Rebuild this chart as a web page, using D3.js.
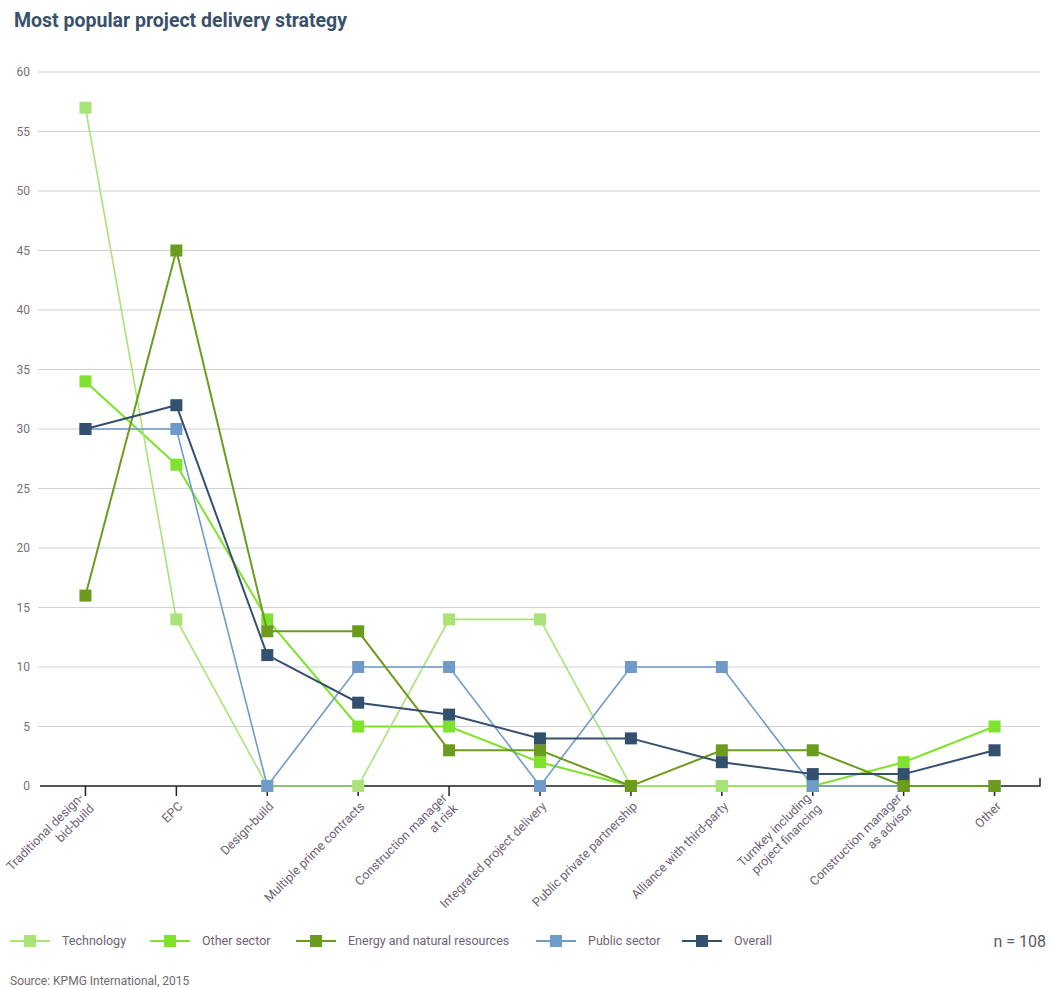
<!DOCTYPE html>
<html>
<head>
<meta charset="utf-8">
<title>Most popular project delivery strategy</title>
<script src="https://d3js.org/d3.v7.min.js"></script>
<style>
  body { margin: 0; background: #fff; }
  svg text { font-family: "Liberation Sans Narrow", "Roboto", "DejaVu Sans", sans-serif; }
</style>
</head>
<body>
<svg width="1051" height="988"></svg>
<script>
var categories = [
    ["Traditional design-", "bid-build"],
    ["EPC"],
    ["Design-build"],
    ["Multiple prime contracts"],
    ["Construction manager", "at risk"],
    ["Integrated project delivery"],
    ["Public private partnership"],
    ["Alliance with third-party"],
    ["Turnkey including", "project financing"],
    ["Construction manager", "as advisor"],
    ["Other"]
];
var technology = [57, 14, 0, 0, 14, 14, 0, 0, 0, 0, 0];
var otherSector = [34, 27, 14, 5, 5, 2, 0, 0, 0, 2, 5];
var energy = [16, 45, 13, 13, 3, 3, 0, 3, 3, 0, 0];
var publicSector = [30, 30, 0, 10, 10, 0, 10, 10, 0, 0, 0];
var overall = [30, 32, 11, 7, 6, 4, 4, 2, 1, 1, 3];
var yTicks = [0, 5, 10, 15, 20, 25, 30, 35, 40, 45, 50, 55, 60];

var series = [
    {name: "Technology", values: technology, color: "#a9e477", width: 1.6, lx: 10, z: 1},
    {name: "Other sector", values: otherSector, color: "#7fe22c", width: 2, lx: 150, z: 0},
    {name: "Energy and natural resources", values: energy, color: "#6b9c1e", width: 2, lx: 296, z: 3},
    {name: "Public sector", values: publicSector, color: "#6f9bc8", width: 1.6, lx: 536, z: 2},
    {name: "Overall", values: overall, color: "#33506f", width: 2, lx: 682, z: 4}
];

var svg = d3.select("svg"),
    margin = {top: 72, right: 11, bottom: 202, left: 40},
    width = +svg.attr("width") - margin.left - margin.right,
    height = +svg.attr("height") - margin.top - margin.bottom;

var x = d3.scaleBand().domain(d3.range(categories.length)).range([0, width]),
    y = d3.scaleLinear().domain([0, 60]).range([height, 0]);

var g = svg.append("g")
    .attr("transform", "translate(" + margin.left + "," + margin.top + ")");

// title
svg.append("text")
    .attr("x", 14).attr("y", 27)
    .style("font-size", "19.5px").style("font-weight", "bold")
    .style("fill", "#3b5169")
    .text("Most popular project delivery strategy");

// gridlines
g.selectAll(".grid")
    .data(yTicks.filter(function(d) { return d > 0; }))
    .enter().append("line")
    .attr("x1", -2).attr("x2", width)
    .attr("y1", function(d) { return y(d); })
    .attr("y2", function(d) { return y(d); })
    .attr("stroke", "#d0d0d6").attr("stroke-width", 1.2);

// y labels
g.selectAll(".ylab")
    .data(yTicks)
    .enter().append("text")
    .attr("x", -10).attr("y", function(d) { return y(d); })
    .attr("dy", "0.35em")
    .attr("text-anchor", "end")
    .style("font-size", "12px").style("fill", "#77707a")
    .text(function(d) { return d; });

// x axis
var xAxis = g.append("g")
    .attr("transform", "translate(0," + height + ")")
    .call(d3.axisBottom(x).tickSize(10).tickFormat(""));
xAxis.select(".domain").attr("d", "M0,0H" + width + "V-8").attr("stroke", "#222").attr("stroke-width", 1.5);
xAxis.selectAll(".tick line").attr("stroke", "#222").attr("stroke-width", 1.5);

// x labels, rotated
var xl = g.selectAll(".xlab")
    .data(categories)
    .enter().append("text")
    .attr("transform", function(d, i) {
        return "translate(" + (x(i) + x.bandwidth() / 2 + 4) + "," + (height + 18) + ") rotate(-45)";
    })
    .attr("text-anchor", "end")
    .style("font-size", "12.5px").style("fill", "#6e6275");
xl.selectAll("tspan")
    .data(function(d) { return d; })
    .enter().append("tspan")
    .attr("x", 0)
    .attr("dy", function(d, i, n) { return i === 0 ? (n.length > 1 ? "-0.6em" : "0.35em") : "1.2em"; })
    .text(function(d) { return d; });

// lines and markers (stacking order as in the original)
var line = d3.line()
    .x(function(d, i) { return x(i) + x.bandwidth() / 2; })
    .y(function(d) { return y(d); });

var sq = 12;
series.slice().sort(function(a, b) { return a.z - b.z; }).forEach(function(s) {
    g.append("path")
        .datum(s.values)
        .attr("fill", "none")
        .attr("stroke", s.color)
        .attr("stroke-width", s.width)
        .attr("d", line);
    g.selectAll(null)
        .data(s.values)
        .enter().append("rect")
        .attr("x", function(d, i) { return x(i) + x.bandwidth() / 2 - sq / 2; })
        .attr("y", function(d) { return y(d) - sq / 2; })
        .attr("width", sq).attr("height", sq)
        .attr("fill", s.color);
});

// legend
var ly = 941;
var leg = svg.selectAll(".leg")
    .data(series)
    .enter().append("g")
    .attr("transform", function(d) { return "translate(" + d.lx + "," + ly + ")"; });
leg.append("line")
    .attr("x1", 0).attr("x2", 40)
    .attr("stroke", function(d) { return d.color; })
    .attr("stroke-width", 2);
leg.append("rect")
    .attr("x", 14).attr("y", -6).attr("width", 12).attr("height", 12)
    .attr("fill", function(d) { return d.color; });
leg.append("text")
    .attr("x", 52).attr("dy", "0.35em")
    .style("font-size", "12.5px").style("fill", "#6e6275")
    .text(function(d) { return d.name; });

svg.append("text")
    .attr("x", 1046).attr("y", ly).attr("dy", "0.35em")
    .attr("text-anchor", "end")
    .style("font-size", "16px").style("fill", "#5a5a66")
    .text("n = 108");

svg.append("text")
    .attr("x", 10).attr("y", 981).attr("dy", "0.35em")
    .style("font-size", "12px").style("fill", "#6e6a70")
    .text("Source: KPMG International, 2015");
</script>
</body>
</html>
